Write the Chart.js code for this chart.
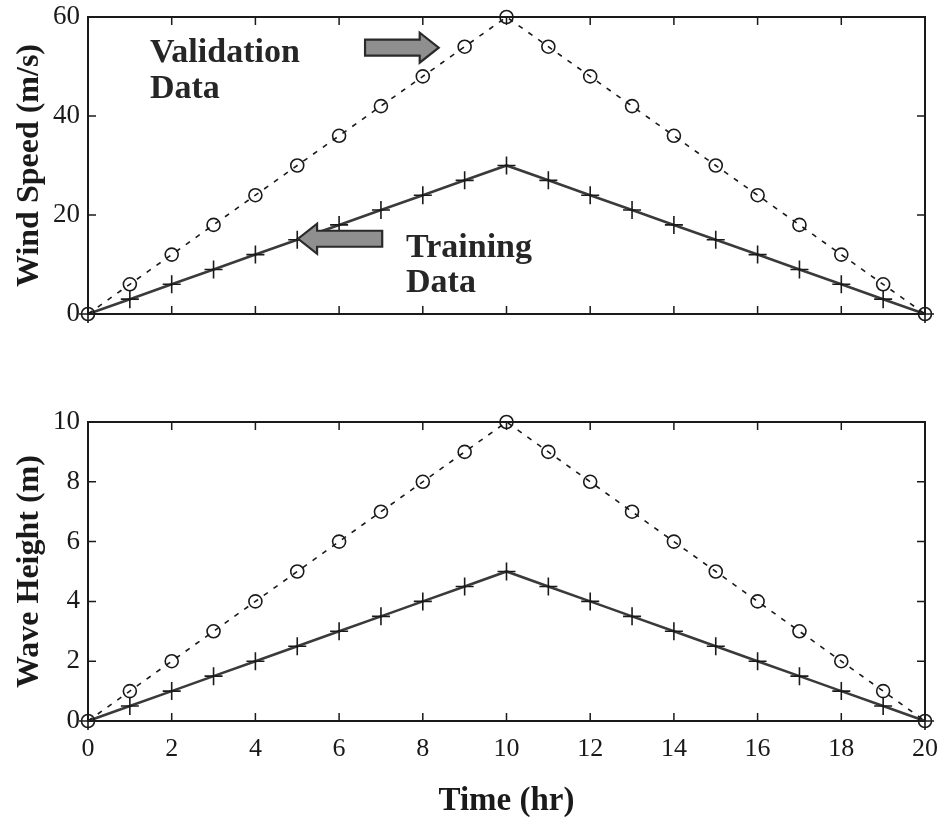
<!DOCTYPE html>
<html><head><meta charset="utf-8">
<script src="https://cdn.jsdelivr.net/npm/chart.js@4.4.0/dist/chart.umd.min.js"></script>
<style>
html,body{margin:0;padding:0;background:#fff;}
#wrap{position:relative;width:941px;height:822px;background:#fff;}
canvas{position:absolute;left:0;}
</style></head><body>
<div id="wrap">
<canvas id="c1" width="941" height="345" style="top:0px"></canvas>
<canvas id="c2" width="941" height="477" style="top:345px"></canvas>
</div>
<script>
// ---- data ----
const hours = [0,1,2,3,4,5,6,7,8,9,10,11,12,13,14,15,16,17,18,19,20];
const windValidation = [0,6,12,18,24,30,36,42,48,54,60,54,48,42,36,30,24,18,12,6,0];
const windTraining   = [0,3,6,9,12,15,18,21,24,27,30,27,24,21,18,15,12,9,6,3,0];
const waveValidation = [0,1,2,3,4,5,6,7,8,9,10,9,8,7,6,5,4,3,2,1,0];
const waveTraining   = [0,0.5,1,1.5,2,2.5,3,3.5,4,4.5,5,4.5,4,3.5,3,2.5,2,1.5,1,0.5,0];
const xTicks = [0,2,4,6,8,10,12,14,16,18,20];
const windTicks = [0,20,40,60];
const waveTicks = [0,2,4,6,8,10];
const xTitle = 'Time (hr)';
const windTitle = 'Wind Speed (m/s)';
const waveTitle = 'Wave Height (m)';
// annotations (in data units of the top panel)
const noteTexts = ['Validation','Data','Training','Data'];
const noteX = [1.48,1.48,7.6,7.6];
const noteY = [50.9,43.6,11.5,4.4];
const arrowFrom = [6.62,7.03];
const arrowTo = [8.38,5.02];
const arrowY = [53.8,15.2];

const INK = '#1a1a1a';
const SERIF = '"Liberation Serif","Times New Roman",serif';

function pts(xs, ys){ return xs.map((x,i)=>({x:x,y:ys[i]})); }

const framePlugin = {
  id:'frame',
  beforeDatasetsDraw(chart){
    const {ctx, chartArea:a, scales} = chart;
    ctx.save();
    ctx.strokeStyle = INK;
    ctx.lineWidth = 2;
    ctx.strokeRect(a.left, a.top, a.right-a.left, a.bottom-a.top);
    ctx.lineWidth = 1.5;
    const tl = 8;
    ctx.beginPath();
    scales.x.ticks.forEach(t=>{
      if (t.value===scales.x.min || t.value===scales.x.max) return;
      const px = scales.x.getPixelForValue(t.value);
      ctx.moveTo(px, a.bottom); ctx.lineTo(px, a.bottom-tl);
      ctx.moveTo(px, a.top); ctx.lineTo(px, a.top+tl);
    });
    scales.y.ticks.forEach(t=>{
      if (t.value===scales.y.min || t.value===scales.y.max) return;
      const py = scales.y.getPixelForValue(t.value);
      ctx.moveTo(a.left, py); ctx.lineTo(a.left+tl, py);
      ctx.moveTo(a.right, py); ctx.lineTo(a.right-tl, py);
    });
    ctx.stroke();
    ctx.restore();
  }
};

const notePlugin = {
  id:'notes',
  afterDatasetsDraw(chart){
    if (chart.canvas.id !== 'c1') return;
    const {ctx, scales} = chart;
    ctx.save();
    ctx.fillStyle = '#262626';
    ctx.font = 'bold 34px ' + SERIF;
    ctx.textBaseline = 'alphabetic';
    ctx.textAlign = 'left';
    noteTexts.forEach((t,i)=>{
      ctx.fillText(t, scales.x.getPixelForValue(noteX[i]), scales.y.getPixelForValue(noteY[i]));
    });
    arrowFrom.forEach((f,i)=>{
      const x0 = scales.x.getPixelForValue(f);
      const x1 = scales.x.getPixelForValue(arrowTo[i]);
      const y = scales.y.getPixelForValue(arrowY[i]);
      const dir = Math.sign(x1-x0);
      const headLen = 19, bodyH = 8, headH = 15;
      const xh = x1 - dir*headLen;
      ctx.beginPath();
      ctx.moveTo(x0, y-bodyH);
      ctx.lineTo(xh, y-bodyH);
      ctx.lineTo(xh, y-headH);
      ctx.lineTo(x1, y);
      ctx.lineTo(xh, y+headH);
      ctx.lineTo(xh, y+bodyH);
      ctx.lineTo(x0, y+bodyH);
      ctx.closePath();
      ctx.fillStyle = '#8f8f8f';
      ctx.fill();
      ctx.lineWidth = 2.2;
      ctx.strokeStyle = '#2a2a2a';
      ctx.stroke();
    });
    ctx.restore();
  }
};

function makeChart(id, valid, train, yTicks, yTitle, showX, padTop, xAxisH){
  const yMin = yTicks[0], yMax = yTicks[yTicks.length-1];
  return new Chart(document.getElementById(id), {
    type:'line',
    data:{datasets:[
      {label:'Validation', data:pts(hours, valid), borderColor:INK, borderWidth:1.6,
       borderDash:[5,7], pointStyle:'circle', pointRadius:6.5, pointBorderWidth:1.6,
       pointBackgroundColor:'rgba(0,0,0,0)', pointBorderColor:INK, clip:false, tension:0},
      {label:'Training', data:pts(hours, train), borderColor:'#3a3a3a', borderWidth:2.6,
       pointStyle:'cross', pointRadius:9, pointBorderWidth:1.6, pointBorderColor:INK,
       clip:false, tension:0}
    ]},
    options:{
      responsive:false, animation:false, devicePixelRatio:1,
      layout:{padding:{top:padTop, right:16, left:0, bottom:0}},
      plugins:{legend:{display:false}, tooltip:{enabled:false}},
      scales:{
        x:{type:'linear', min:0, max:20,
           afterBuildTicks:s=>{ s.ticks = xTicks.map(v=>({value:v})); },
           afterFit:s=>{ s.height = xAxisH; s.paddingLeft = 0; s.paddingRight = 0; },
           grid:{display:false}, border:{display:false},
           ticks:{display:showX, padding:5, color:INK, font:{family:SERIF, size:26}, maxRotation:0, autoSkip:false},
           title:{display:showX, text:xTitle, color:INK, font:{family:SERIF, size:33, weight:'bold'}, padding:{top:0,bottom:1}}
        },
        y:{type:'linear', min:yMin, max:yMax,
           afterBuildTicks:s=>{ s.ticks = yTicks.map(v=>({value:v})); },
           afterFit:s=>{ s.width = 88; },
           grid:{display:false}, border:{display:false},
           ticks:{padding:0, color:INK, font:{family:SERIF, size:27}, autoSkip:false},
           title:{display:true, text:yTitle, color:INK, font:{family:SERIF, size:32, weight:'bold'}, padding:{top:11,bottom:0}}
        }
      }
    },
    plugins:[framePlugin, notePlugin]
  });
}

makeChart('c1', windValidation, windTraining, windTicks, windTitle, false, 17, 31);
makeChart('c2', waveValidation, waveTraining, waveTicks, waveTitle, true, 77, 101);
</script>
</body></html>
